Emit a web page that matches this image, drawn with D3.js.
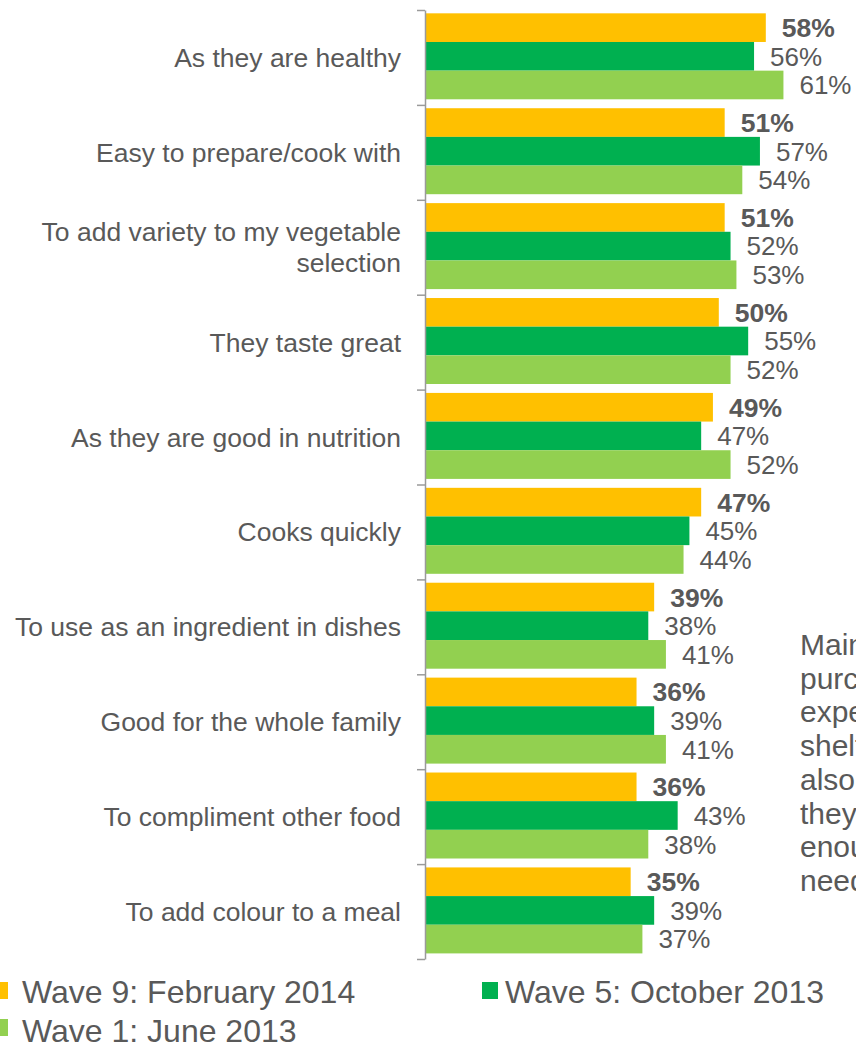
<!DOCTYPE html>
<html>
<head>
<meta charset="utf-8">
<script src="https://cdn.jsdelivr.net/npm/d3@7"></script>
<style>
  html, body { margin: 0; padding: 0; background: #fff; }
  svg { display: block; overflow: hidden; }
  text { font-family: "Liberation Sans", Arial, sans-serif; fill: #595959; }
</style>
</head>
<body>
<div id="chart"></div>
<script>
// Reasons for buying, by survey wave (% of respondents)
const categories = [
  ["As they are healthy"],
  ["Easy to prepare/cook with"],
  ["To add variety to my vegetable", "selection"],
  ["They taste great"],
  ["As they are good in nutrition"],
  ["Cooks quickly"],
  ["To use as an ingredient in dishes"],
  ["Good for the whole family"],
  ["To compliment other food"],
  ["To add colour to a meal"]
];
const seriesNames = ["Wave 9: February 2014", "Wave 5: October 2013", "Wave 1: June 2013"];
const seriesColors = ["#FFC000", "#00B050", "#92D050"];
const wave9 = [58, 51, 51, 50, 49, 47, 39, 36, 36, 35];
const wave5 = [56, 57, 52, 55, 47, 45, 38, 39, 43, 39];
const wave1 = [61, 54, 53, 52, 52, 44, 41, 41, 38, 37];
const seriesValues = [wave9, wave5, wave1];

// Side note, partly running off the right edge
const noteLines = [
  "Main reasons for",
  "purchase remain as",
  "expected; long",
  "shelf life is",
  "also noted, as",
  "they keep long",
  "enough for when",
  "needed"
];

const W = 856, H = 1048;
const svg = d3.select("#chart").append("svg")
  .attr("width", W).attr("height", H);

const axisX = 425;
const plotTop = 10, plotBottom = 959;

const x = d3.scaleLinear().domain([0, 100]).range([axisX, axisX + 587.6]);
const keys = categories.map((c, i) => i);
const y = d3.scaleBand().domain(keys).range([plotTop, plotBottom]).padding(0);
const bw = y.bandwidth();
const yInner = d3.scaleBand().domain(d3.range(seriesNames.length))
  .range([bw * 0.035, bw * 0.941]).padding(0);

// Category groups
const groups = svg.append("g").selectAll("g")
  .data(keys).join("g")
  .attr("transform", i => `translate(0,${y(i)})`);

groups.selectAll("rect")
  .data(i => seriesValues.map((vals, s) => ({ s, v: vals[i] })))
  .join("rect")
  .attr("x", x(0))
  .attr("y", d => yInner(d.s))
  .attr("width", d => x(d.v) - x(0))
  .attr("height", yInner.bandwidth())
  .attr("fill", d => seriesColors[d.s]);

groups.selectAll("text.val")
  .data(i => seriesValues.map((vals, s) => ({ s, v: vals[i] })))
  .join("text")
  .attr("class", "val")
  .attr("x", d => x(d.v) + 16)
  .attr("y", d => yInner(d.s) + yInner.bandwidth() / 2)
  .attr("dy", "0.36em")
  .attr("font-size", d => d.s === 0 ? 26.5 : 26)
  .attr("font-weight", d => d.s === 0 ? "bold" : "normal")
  .text(d => d.v + "%");

// Category labels
const lineGap = 31;
groups.append("text")
  .attr("class", "cat")
  .attr("text-anchor", "end")
  .attr("font-size", 26.5)
  .each(function(i) {
    const lines = categories[i];
    const t = d3.select(this);
    lines.forEach((ln, k) => {
      t.append("tspan")
        .attr("x", 401)
        .attr("y", bw / 2 + (k - (lines.length - 1) / 2) * lineGap)
        .attr("dy", "0.36em")
        .text(ln);
    });
  });

// Category axis with ticks at group boundaries
const yIdx = d3.scaleLinear().domain([0, categories.length]).range([plotTop, plotBottom]);
const axisG = svg.append("g")
  .attr("transform", `translate(${axisX},0)`)
  .call(d3.axisLeft(yIdx).tickValues(d3.range(categories.length + 1))
    .tickSize(8).tickSizeOuter(0).tickFormat(""));
axisG.select(".domain").attr("stroke", "#9a9a9a").attr("stroke-width", 1.5);
axisG.selectAll(".tick line").attr("stroke", "#9a9a9a").attr("stroke-width", 1.5);

// Legend
const legendPos = [
  { mx: -8, my: 982, tx: 22, ty: 1003 },
  { mx: 482, my: 982, tx: 505, ty: 1003 },
  { mx: -8, my: 1019, tx: 22, ty: 1042 }
];
const leg = svg.append("g").selectAll("g")
  .data(seriesNames).join("g");
leg.append("rect")
  .attr("x", (d, i) => legendPos[i].mx)
  .attr("y", (d, i) => legendPos[i].my)
  .attr("width", 16).attr("height", 17)
  .attr("fill", (d, i) => seriesColors[i]);
leg.append("text")
  .attr("x", (d, i) => legendPos[i].tx)
  .attr("y", (d, i) => legendPos[i].ty)
  .attr("font-size", 32)
  .text(d => d);

// Side note
svg.append("text")
  .attr("font-size", 30)
  .selectAll("tspan")
  .data(noteLines).join("tspan")
  .attr("x", 800)
  .attr("y", (d, i) => 655 + i * 33.7)
  .text(d => d);
</script>
</body>
</html>
